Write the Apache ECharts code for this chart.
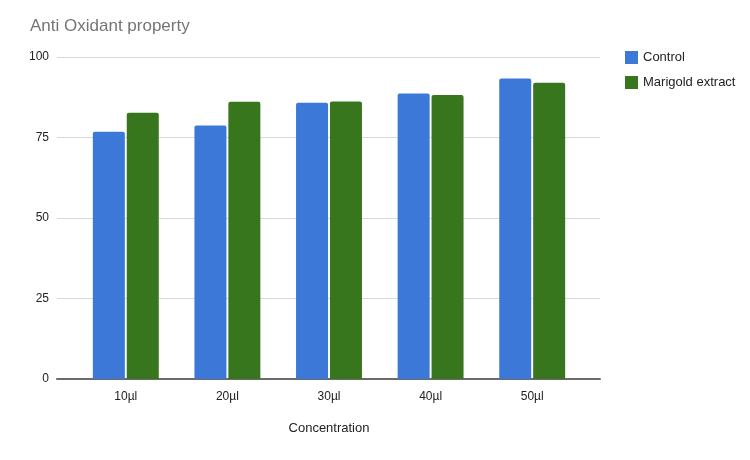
<!DOCTYPE html>
<html><head><meta charset="utf-8">
<script src="https://cdn.jsdelivr.net/npm/echarts@6/dist/echarts.min.js"></script>
<style>html,body{margin:0;padding:0;background:#fff}#c{width:750px;height:460px}</style>
</head><body><div id="c"></div>
<script>
const categories = ['10µl','20µl','30µl','40µl','50µl'];
const controlValues = [76.8, 78.7, 85.8, 88.7, 93.3];
const marigoldValues = [82.7, 86.1, 86.2, 88.2, 92.0];
const yTicks = [0, 25, 50, 75, 100];

const font = '"Liberation Sans", Arial, sans-serif';
const chart = echarts.init(document.getElementById('c'));
chart.setOption({
  animation: false,
  backgroundColor: '#ffffff',
  title: {
    text: 'Anti Oxidant property', left: 25, top: 13,
    textStyle: { fontFamily: font, fontSize: 17, fontWeight: 'normal', color: '#757575' }
  },
  legend: {
    orient: 'vertical', left: 620, top: 46,
    itemWidth: 13, itemHeight: 13, itemGap: 12, icon: 'rect',
    textStyle: { fontFamily: font, fontSize: 13, color: '#222' },
    data: ['Control', 'Marigold extract']
  },
  grid: [
    { left: 57, right: 150, top: 57, bottom: 81 },
    { left: 75, right: 167, top: 57, bottom: 81 }
  ],
  xAxis: [
    { gridIndex: 0, type: 'value', min: 0, max: 1, show: true,
      axisLine: { show: true, lineStyle: { color: '#6b6b6b', width: 2 } },
      axisTick: { show: false }, axisLabel: { show: false }, splitLine: { show: false } },
    { gridIndex: 1, type: 'category', data: categories,
      name: 'Concentration', nameLocation: 'middle', nameGap: 43,
      nameTextStyle: { fontFamily: font, fontSize: 13, color: '#222' },
      axisLine: { show: false }, axisTick: { show: false },
      axisLabel: { fontFamily: font, fontSize: 12, color: '#222', margin: 12 } }
  ],
  yAxis: [
    { gridIndex: 0, type: 'value', min: yTicks[0], max: yTicks[yTicks.length-1], interval: 25,
      axisLine: { show: false }, axisTick: { show: false },
      axisLabel: { fontFamily: font, fontSize: 12, color: '#222', margin: 8 },
      splitLine: { lineStyle: { color: '#d9d9d9', width: 1 } } },
    { gridIndex: 1, type: 'value', min: 0, max: 100, interval: 25, show: false,
      splitLine: { show: false } }
  ],
  series: [
    { name: 'Control', type: 'bar', xAxisIndex: 1, yAxisIndex: 1, data: controlValues,
      barWidth: 32, barGap: '6%', itemStyle: { color: '#3c78d8', borderRadius: [2,2,0,0] } },
    { name: 'Marigold extract', type: 'bar', xAxisIndex: 1, yAxisIndex: 1, data: marigoldValues,
      barWidth: 32, barGap: '6%', itemStyle: { color: '#38761d', borderRadius: [2,2,0,0] } }
  ]
});
</script></body></html>
